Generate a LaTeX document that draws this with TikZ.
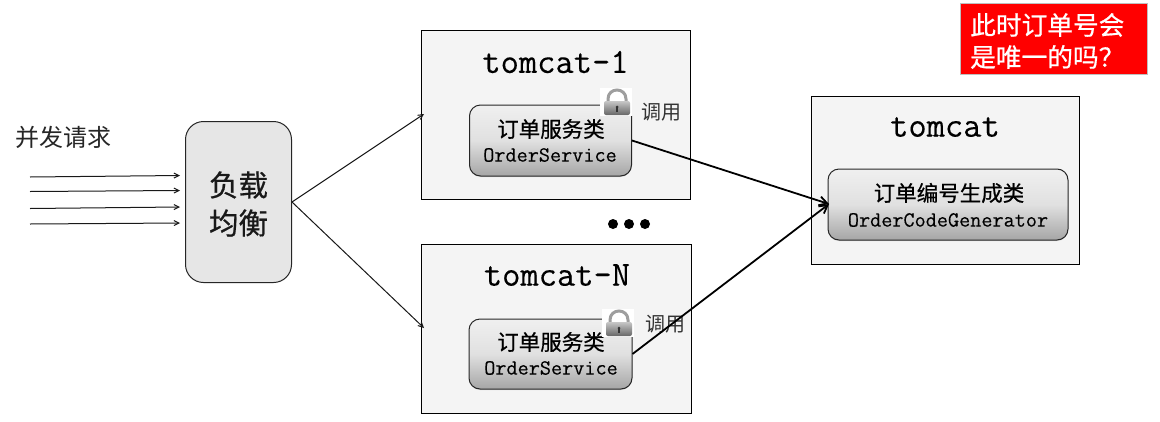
\documentclass[tikz,border=0pt]{standalone}
\usepackage{fontspec}
\usetikzlibrary{arrows.meta,shadows}
\setmainfont{Noto Sans CJK SC}
\newfontfamily\mono[FakeBold=0.25]{Latin Modern Mono}
\newfontfamily\cjkb[FakeBold=0.6]{Noto Sans CJK SC}
\definecolor{panel}{HTML}{F4F4F4}
\definecolor{lbfill}{HTML}{E6E6E6}
\definecolor{redbox}{HTML}{FF0000}
\tikzset{
  x=1pt,y=-1pt,
  panelbox/.style={draw=black,line width=1pt,fill=panel,minimum width=#1,anchor=north west,inner sep=0pt},
  svc/.style={draw=black!85,line width=1pt,rounded corners=11pt,top color=white!94!black,bottom color=black!35,middle color=black!12,inner sep=0pt,align=center,drop shadow={shadow xshift=0pt,shadow yshift=-1pt,opacity=.25}},
  titletxt/.style={font=\mono\fontsize{35.5}{36}\selectfont,text=black,inner sep=0pt},
  svccn/.style={font=\cjkb\fontsize{21.5}{24}\selectfont,text=black,inner sep=0pt},
  svcen/.style={font=\mono\fontsize{21.6}{24}\selectfont,text=black,inner sep=0pt},
  thinarrow/.style={-{Straight Barb[length=5pt,width=5pt]},line width=1pt,draw=black!90},
  thickarrow/.style={-{Straight Barb[length=8pt,width=9pt]},line width=1.8pt},
  cap1/.style={font=\fontsize{20}{20}\selectfont,text=black!80,inner sep=0pt},
  dotmark/.style={circle,fill=black,inner sep=0pt,minimum size=10pt}
}
\newcommand{\padlock}[2]{%
  \begin{scope}[shift={(#1,#2)}]
    \fill[white] (0,0) rectangle (32,28);
    \draw[line width=3pt,draw=black!38] (8,15) -- (8,11) .. controls (8,-1) and (26,-1) .. (26,11) -- (26,15);
    \shade[top color=black!22,middle color=black!55,bottom color=black!60,rounded corners=2pt] (4,13) rectangle (30,27);
    \fill[black!80] (17,19) circle (1.5pt);
    \fill[black!80] (16.3,19) rectangle (17.7,24);
  \end{scope}}
\begin{document}
\begin{tikzpicture}
\useasboundingbox (0,0) rectangle (1160,421);
\fill[white] (0,0) rectangle (1160,421);

% red box
\node[anchor=north west,fill=redbox,draw=black!25,line width=.6pt,minimum width=187pt,minimum height=71pt,inner sep=0pt] (note) at (960,3) {};
\node[text=white,font=\cjkb\fontsize{25.7}{32}\selectfont,align=left,inner sep=0pt,anchor=west] (notetxt) at (970,41) {此时订单号会\\是唯一的吗？};

% panels
\node[panelbox=269pt,minimum height=169pt] (t1) at (421,30) {};
\node[panelbox=270pt,minimum height=169pt] (tn) at (421,244) {};
\node[panelbox=268pt,minimum height=168pt] (tr) at (811,96) {};

\node[titletxt] (t1title) at (555.5,62) {tomcat-1};
\node[titletxt] (tntitle) at (557,275) {tomcat-N};
\node[titletxt] (trtitle) at (945,127) {tomcat};

% inner services
\node[svc,minimum width=162pt,minimum height=71pt] (s1) at (550.5,140.5) {};
\node[svccn] (s1cn) at (551,129) {订单服务类};
\node[svcen] (s1en) at (550,155) {OrderService};
\node[svc,minimum width=163pt,minimum height=70pt] (sn) at (550.5,354) {};
\node[svccn] (sncn) at (551,342) {订单服务类};
\node[svcen] (snen) at (551,368) {OrderService};
\node[svc,minimum width=240pt,minimum height=71pt] (gen) at (948,204.5) {};
\node[svccn] (gencn) at (949,193) {订单编号生成类};
\node[svcen] (genen) at (948,220) {OrderCodeGenerator};

% locks
\padlock{600}{88}
\padlock{602}{309}

\node[cap1] (call1) at (661,112) {调用};
\node[cap1] (call2) at (665.5,324) {调用};

% load balancer
\node[draw=black!85,line width=1pt,fill=lbfill,rounded corners=18pt,minimum width=106pt,minimum height=161pt,inner sep=0pt,anchor=north west] (lb) at (185,121) {};
\node[font=\cjkb\fontsize{29.5}{38}\selectfont,align=center,inner sep=0pt,text=black!90] (lbtxt) at (238.5,204) {负载\\均衡};

% input
\node[font=\fontsize{24}{24}\selectfont,inner sep=0pt,text=black!85] (req) at (63.5,137) {并发请求};
\coordinate (a1) at (30,177);\coordinate (b1) at (180,175.5);
\coordinate (a2) at (30,191.5);\coordinate (b2) at (180,190.5);
\coordinate (a3) at (30,208.5);\coordinate (b3) at (180,207);
\coordinate (a4) at (30,224);\coordinate (b4) at (180,223);
\draw[thinarrow] (a1) -- (b1);
\draw[thinarrow] (a2) -- (b2);
\draw[thinarrow] (a3) -- (b3);
\draw[thinarrow] (a4) -- (b4);

% lb to tomcats
\draw[thinarrow] (lb.east) -- (424,114);
\draw[thinarrow] (lb.east) -- (424,328);

% calls
\coordinate (join) at (829,204);
\draw[thickarrow] (s1.east) -- (join);
\draw[thickarrow] (sn.east) -- (join);

% dots
\node[dotmark] (d1) at (613,224) {};
\node[dotmark] (d2) at (629,224) {};
\node[dotmark] (d3) at (645,224) {};
\end{tikzpicture}
\end{document}
